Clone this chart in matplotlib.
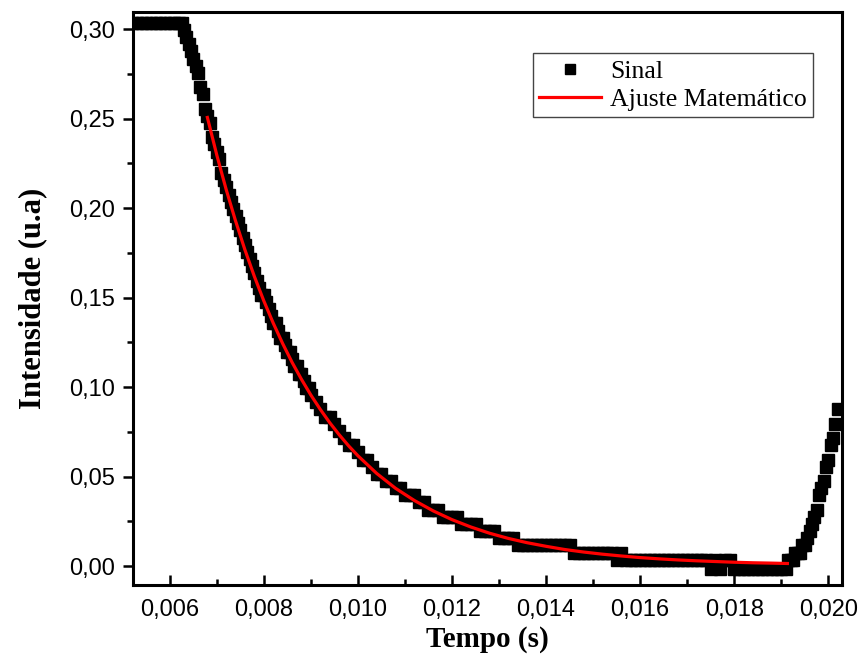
import matplotlib
matplotlib.use("Agg")
import matplotlib.pyplot as plt
from matplotlib.ticker import MultipleLocator, FuncFormatter

# Sinal medido (quantizado) - tempo em s, intensidade em u.a.
t_sinal = [0.0050, 0.0051, 0.0052, 0.0053, 0.0054, 0.0055, 0.0056, 0.0057, 0.0058, 0.0059,
           0.0060, 0.0061, 0.0062, 0.00625,
           0.00630, 0.00635, 0.00640, 0.00645, 0.00650, 0.00655, 0.00660, 0.00665, 0.00670, 0.00675,
           0.00680, 0.00685, 0.00690, 0.00695, 0.00700, 0.00705, 0.00710, 0.00715, 0.00720, 0.00725,
           0.00730, 0.00735, 0.00740, 0.00745, 0.00750, 0.00755, 0.00760, 0.00765, 0.00770, 0.00775,
           0.00780, 0.00785, 0.00790, 0.00795, 0.00800, 0.00805, 0.00810, 0.00815, 0.00820, 0.00825,
           0.00830, 0.00835, 0.00840, 0.00845, 0.00850, 0.00855, 0.00860, 0.00865, 0.00870, 0.00875,
           0.00880, 0.00885, 0.00890, 0.00895, 0.00900,
           0.0091, 0.0092, 0.0093, 0.0094, 0.0095, 0.0096, 0.0097, 0.0098, 0.0099, 0.0100,
           0.0101, 0.0102, 0.0103, 0.0104, 0.0105, 0.0106, 0.0107, 0.0108, 0.0109, 0.0110,
           0.0111, 0.0112, 0.0113, 0.0114, 0.0115, 0.0116, 0.0117, 0.0118, 0.0119, 0.0120,
           0.0121, 0.0122, 0.0123, 0.0124, 0.0125, 0.0126, 0.0127, 0.0128, 0.0129, 0.0130,
           0.0131, 0.0132, 0.0133, 0.0134, 0.0135, 0.0136, 0.0137, 0.0138, 0.0139, 0.0140,
           0.0141, 0.0142, 0.0143, 0.0144, 0.0145, 0.0146, 0.0147, 0.0148, 0.0149, 0.0150,
           0.0151, 0.0152, 0.0153, 0.0154, 0.0155, 0.0156, 0.0157, 0.0158, 0.0159, 0.0160,
           0.0161, 0.0162, 0.0163, 0.0164, 0.0165, 0.0166, 0.0167, 0.0168, 0.0169, 0.0170,
           0.0171, 0.0172, 0.0173, 0.0174, 0.0175, 0.0176, 0.0177, 0.0178, 0.0179, 0.0180,
           0.0181, 0.0182, 0.0183, 0.0184, 0.0185, 0.0186, 0.0187, 0.0188, 0.0189, 0.0190,
           0.0191,
           0.01915, 0.01920, 0.01925, 0.01930, 0.01935, 0.01940, 0.01945, 0.01950, 0.01955, 0.01960,
           0.01965, 0.01970, 0.01975, 0.01980, 0.01985, 0.01990, 0.01995, 0.02000, 0.02005, 0.02010,
           0.02015, 0.02020]
y_sinal = [0.3035, 0.3035, 0.3035, 0.3035, 0.3035, 0.3035, 0.3035, 0.3035, 0.3035, 0.3035,
           0.3035, 0.3035, 0.3035, 0.3035,
           0.2995, 0.2955, 0.2915, 0.2875, 0.2835, 0.2795, 0.2755, 0.2675, 0.2635, 0.2555,
           0.2515, 0.2475, 0.2395, 0.2355, 0.2315, 0.2275, 0.2195, 0.2155, 0.2115, 0.2075,
           0.2035, 0.1995, 0.1955, 0.1915, 0.1875, 0.1835, 0.1795, 0.1755, 0.1715, 0.1675,
           0.1635, 0.1595, 0.1555, 0.1515, 0.1515, 0.1475, 0.1435, 0.1395, 0.1355, 0.1355,
           0.1315, 0.1275, 0.1275, 0.1235, 0.1195, 0.1195, 0.1155, 0.1115, 0.1115, 0.1075,
           0.1075, 0.1035, 0.0995, 0.0995, 0.0955,
           0.0915, 0.0875, 0.0835, 0.0835, 0.0795, 0.0755, 0.0715, 0.0675, 0.0675, 0.0635,
           0.0595, 0.0595, 0.0555, 0.0515, 0.0515, 0.0475, 0.0475, 0.0435, 0.0435, 0.0395,
           0.0395, 0.0395, 0.0355, 0.0355, 0.0315, 0.0315, 0.0315, 0.0275, 0.0275, 0.0275,
           0.0275, 0.0235, 0.0235, 0.0235, 0.0235, 0.0195, 0.0195, 0.0195, 0.0195, 0.0155,
           0.0155, 0.0155, 0.0155, 0.0115, 0.0115, 0.0115, 0.0115, 0.0115, 0.0115, 0.0115,
           0.0115, 0.0115, 0.0115, 0.0115, 0.0115, 0.0075, 0.0075, 0.0075, 0.0075, 0.0075,
           0.0075, 0.0075, 0.0075, 0.0075, 0.0035, 0.0075, 0.0035, 0.0035, 0.0035, 0.0035,
           0.0035, 0.0035, 0.0035, 0.0035, 0.0035, 0.0035, 0.0035, 0.0035, 0.0035, 0.0035,
           0.0035, 0.0035, 0.0035, 0.0035, -0.0015, 0.0035, -0.0015, 0.0035, 0.0035, -0.0015,
           -0.0015, -0.0015, -0.0015, -0.0015, -0.0015, -0.0015, -0.0015, -0.0015, -0.0015, -0.0015,
           -0.0015,
           0.0035, 0.0035, 0.0035, 0.0075, 0.0075, 0.0075, 0.0115, 0.0115, 0.0155, 0.0195,
           0.0235, 0.0275, 0.0315, 0.0395, 0.0435, 0.0475, 0.0555, 0.0595, 0.0675, 0.0715,
           0.0795, 0.0875]

# Ajuste exponencial
t_ajuste = [0.0068, 0.0070, 0.0072, 0.0074, 0.0076, 0.0078, 0.0080, 0.0082, 0.0084, 0.0086,
            0.0088, 0.0090, 0.0092, 0.0094, 0.0096, 0.0098, 0.0100, 0.0104, 0.0108, 0.0112,
            0.0116, 0.0120, 0.0124, 0.0128, 0.0132, 0.0136, 0.0140, 0.0144, 0.0148, 0.0152,
            0.0156, 0.0160, 0.0164, 0.0168, 0.0172, 0.0176, 0.0180, 0.0184, 0.0188, 0.01913]
y_ajuste = [0.2506, 0.2296, 0.2103, 0.1927, 0.1765, 0.1617, 0.1481, 0.1357, 0.1243, 0.1138,
            0.1043, 0.0955, 0.0875, 0.0801, 0.0734, 0.0672, 0.0616, 0.0517, 0.0434, 0.0366,
            0.0308, 0.0259, 0.0218, 0.0183, 0.0154, 0.0130, 0.0110, 0.0092, 0.0078, 0.0066,
            0.0056, 0.0047, 0.0040, 0.0034, 0.0029, 0.0025, 0.0021, 0.0018, 0.0016, 0.0014]

fig = plt.figure(figsize=(8.62, 6.72), dpi=100)
ax = fig.add_axes([0.1543, 0.1295, 0.8222, 0.8526])

ax.plot(t_sinal, y_sinal, linestyle="none", marker="s", markersize=9.2,
        color="black", label="Sinal")
ax.plot(t_ajuste, y_ajuste, color="red", linewidth=2.3, label="Ajuste Matemático")

ax.set_xlim(0.005219, 0.020285)
ax.set_ylim(-0.0106, 0.3095)

ax.xaxis.set_major_locator(MultipleLocator(0.002))
ax.xaxis.set_minor_locator(MultipleLocator(0.001))
ax.yaxis.set_major_locator(MultipleLocator(0.05))
ax.yaxis.set_minor_locator(MultipleLocator(0.025))
ax.xaxis.set_major_formatter(FuncFormatter(lambda v, p: ("%.3f" % v).replace(".", ",")))
ax.yaxis.set_major_formatter(FuncFormatter(lambda v, p: ("%.2f" % v).replace(".", ",")))

for s in ax.spines.values():
    s.set_linewidth(2.2)

ax.tick_params(axis="x", which="major", direction="in", length=7, width=1.8, pad=10,
               labelsize=17, top=False)
ax.tick_params(axis="x", which="minor", direction="in", length=4, width=1.8, top=False)
ax.tick_params(axis="y", which="major", direction="out", length=7, width=1.8, pad=6,
               labelsize=17, right=False)
ax.tick_params(axis="y", which="minor", direction="out", length=4, width=1.8, right=False)
for lab in ax.get_xticklabels() + ax.get_yticklabels():
    lab.set_fontfamily("Liberation Sans")

ax.set_xlabel("Tempo (s)", fontsize=21, fontweight="bold", family="Liberation Serif",
              labelpad=4)
ax.set_ylabel("Intensidade (u.a)", fontsize=22, fontweight="bold", family="Liberation Serif",
              labelpad=16)

leg = ax.legend(loc="upper right", bbox_to_anchor=(0.9595, 0.928), borderaxespad=0,
                prop={"family": "Liberation Serif", "size": 18.5}, fancybox=False,
                edgecolor="#444444", framealpha=1, handlelength=2.4, handletextpad=0.35,
                borderpad=0.25, labelspacing=0.2, markerscale=0.8)
leg.get_frame().set_linewidth(1.0)

fig.savefig("out.png", dpi=100)
